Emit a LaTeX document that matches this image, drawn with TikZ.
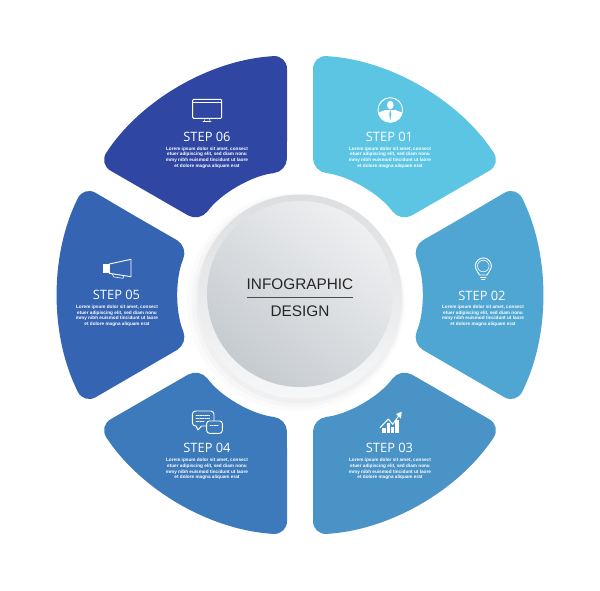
\documentclass[tikz,border=0pt]{standalone}
\usepackage{fontspec}
\setmainfont{Liberation Sans}
\newfontfamily\stepfont{Open Sans}
\newcommand{\loremtext}{Lorem ipsum dolor sit amet, consect\\etuer adipiscing elit, sed diam nonu\\mmy nibh euismod tincidunt ut laore\\et dolore magna aliquam erat}
\definecolor{segone}{HTML}{5CC5E4}
\definecolor{segtwo}{HTML}{4FA6D3}
\definecolor{segthree}{HTML}{4993C7}
\definecolor{segfour}{HTML}{3C7ABC}
\definecolor{segfive}{HTML}{3464B2}
\definecolor{segsix}{HTML}{2F47A3}
\definecolor{discdark}{HTML}{C6CBCF}
\definecolor{disclight}{HTML}{EEEFF1}
\definecolor{ringtop}{HTML}{DCDEDF}
\definecolor{ringbottom}{HTML}{F6F7F8}
\begin{document}
\begin{tikzpicture}[scale=0.3]
	\tikzstyle{every node}+=[inner sep=0pt]
	\tikzstyle{segment}=[rounded corners=4mm]
	\tikzstyle{steplabel}=[text=white,font=\stepfont\fontsize{11}{13}\selectfont]
	\tikzstyle{lorem}=[text=white,align=center,font=\bfseries\fontsize{4}{4.8}\selectfont]
	\tikzstyle{icon}=[draw=white,line width=0.28mm,line join=round,line cap=round]
	\tikzstyle{iconthin}=[draw=white,line width=0.17mm,line cap=round]
	\tikzstyle{iconfill}=[fill=white]
	\tikzstyle{title}=[text=black!85,font=\fontsize{13.1}{15}\selectfont]
	\useasboundingbox (0,0) rectangle (60,-59);

	% segments
	\fill [segone,segment] (31.3,-11) -- (31.3,-5.54) arc (86.9:33.1:24) -- (40.03,-22.21) arc (36.02:83.98:12.4) -- cycle;
	\fill [segtwo,segment] (46.5,-21.6) -- (51.6,-18.6) arc (26.78:-26.78:24.19) -- (41.15,-34.33) arc (-23.4:23.4:12.15) -- cycle;
	\fill [segthree,segment] (31.3,-48) -- (31.3,-53.46) arc (-86.9:-33.1:24) -- (40.03,-36.79) arc (-36.02:-83.98:12.4) -- cycle;
	\fill [segfour,segment] (28.7,-48) -- (28.7,-53.46) arc (-93.1:-146.9:24) -- (19.97,-36.79) arc (-143.98:-96.02:12.4) -- cycle;
	\fill [segfive,segment] (13.5,-21.6) -- (8.4,-18.6) arc (153.22:206.78:24.19) -- (18.85,-34.33) arc (203.4:156.6:12.15) -- cycle;
	\fill [segsix,segment] (28.7,-11) -- (28.7,-5.54) arc (93.1:146.9:24) -- (19.97,-22.21) arc (143.98:96.02:12.4) -- cycle;

	% centre disc
	\fill [black,opacity=0.015] (29.6,-30.2) circle (10.9);
	\fill [black,opacity=0.02] (29.75,-30.1) circle (10.6);
	\fill [black,opacity=0.025] (29.9,-30) circle (10.35);
	\shade [top color=ringtop,bottom color=ringbottom] (30,-29.65) circle (10.2);
	\shade [shading=axis,top color=disclight,bottom color=discdark,shading angle=-40] (30,-29.4) circle (9.3);
	\draw (30,-28.45) node (titletop) [title] {INFOGRAPHIC};
	\draw (30,-31.1) node (titlebottom) [title] {DESIGN};
	\draw [black!70,line width=0.2mm] (24.7,-29.7) -- (35.3,-29.7);

	% step 01
	\draw (38.95,-13.7) node (stepone) [steplabel] {STEP 01};
	\draw (39,-15.75) node (loremone) [lorem] {\loremtext};
	\begin{scope}
		\clip (39.03,-11) circle (1.23);
		\fill [iconfill] (37.3,-12.4) -- (37.5,-11.4) -- (38.5,-11) -- (39.55,-11) -- (40.55,-11.4) -- (40.8,-12.4) -- cycle;
	\end{scope}
	\draw [icon] (39.03,-11) circle (1.23);
	\fill [iconfill] (39.03,-10.5) ellipse (0.33 and 0.43);
	\fill [segone] (39.03,-11) -- (38.93,-11.4) -- (39.03,-12.1) -- (39.13,-11.4) -- cycle;

	% step 02
	\draw (48.2,-29.6) node (steptwo) [steplabel] {STEP 02};
	\draw (48.3,-31.57) node (loremtwo) [lorem] {\loremtext};
	\draw [icon] (47.95,-27.5) .. controls (47.9,-27.3) .. (47.71,-27.1) arc (219:-39:0.8) .. controls (48.75,-27.3) .. (48.7,-27.5) -- cycle;
	\draw [iconthin] (48.33,-26.6) circle (0.58);
	\draw [iconthin] (48.05,-27.72) -- (48.6,-27.72);
	\draw [iconthin] (48.15,-27.92) -- (48.5,-27.92);

	% step 03
	\draw (38.95,-44.8) node (stepthree) [steplabel] {STEP 03};
	\draw (39,-46.9) node (loremthree) [lorem] {\loremtext};
	\fill [iconfill] (38.23,-42.83) rectangle (38.57,-43.33);
	\fill [iconfill] (38.67,-42.33) rectangle (39,-43.33);
	\fill [iconfill] (39.07,-42.67) rectangle (39.43,-43.33);
	\fill [iconfill] (39.53,-42) rectangle (39.9,-43.33);
	\draw [icon,line width=0.3mm] (38,-42.77) -- (38.83,-41.9) -- (39.27,-42.43) -- (39.9,-41.55);
	\fill [iconfill] (40.17,-41.17) -- (40.1,-41.85) -- (39.6,-41.4) -- cycle;

	% step 04
	\draw (20.7,-44.8) node (stepfour) [steplabel] {STEP 04};
	\draw (20.7,-46.9) node (loremfour) [lorem] {\loremtext};
	\draw [icon,rounded corners=1mm] (20.4,-42.6) -- (21.4,-42.6) -- (21.4,-41.1) -- (19.23,-41.1) -- (19.23,-42.6) -- (19.6,-42.6);
	\draw [icon] (19.6,-42.6) -- (19.8,-43) -- (20.15,-42.6) -- (20.4,-42.6);
	\draw [segfour,fill=segfour,line width=0mm,rounded corners=0.8mm] (20.67,-42.1) rectangle (22.23,-43.33);
	\draw [icon,rounded corners=0.8mm] (20.67,-42.1) rectangle (22.23,-43.33);
	\draw [iconthin,dash pattern=on 0.3mm off 0.25mm] (19.6,-41.55) -- (21,-41.55);
	\draw [iconthin,dash pattern=on 0.3mm off 0.25mm] (19.6,-41.85) -- (21,-41.85);
	\draw [iconthin,dash pattern=on 0.3mm off 0.25mm] (19.6,-42.15) -- (20.4,-42.15);
	\draw [iconthin,dash pattern=on 0.3mm off 0.25mm] (21,-42.5) -- (21.9,-42.5);

	% step 05
	\draw (11.65,-29.5) node (stepfive) [steplabel] {STEP 05};
	\draw (11.7,-31.57) node (loremfive) [lorem] {\loremtext};
	\draw [icon] (10.93,-26.4) -- (13.1,-25.93) -- (13.1,-27.67) -- (10.93,-27.33) -- cycle;
	\fill [iconfill] (10.33,-26.35) rectangle (10.93,-27.3);
	\draw [iconthin] (11.2,-27.4) -- (11.4,-27.7) -- (12.3,-27.83) -- (12.4,-27.55);

	% step 06
	\draw (20.7,-13.7) node (stepsix) [steplabel] {STEP 06};
	\draw (20.7,-15.75) node (loremsix) [lorem] {\loremtext};
	\draw [icon,rounded corners=0.3mm] (19.27,-9.93) rectangle (22.17,-11.83);
	\draw [iconthin] (19.3,-10.25) -- (22.15,-10.25);
	\draw [iconthin] (20.5,-11.83) -- (20.45,-12.17);
	\draw [iconthin] (20.95,-11.83) -- (21,-12.17);
	\draw [icon] (20.3,-12.17) -- (21.1,-12.17);
\end{tikzpicture}
\end{document}
